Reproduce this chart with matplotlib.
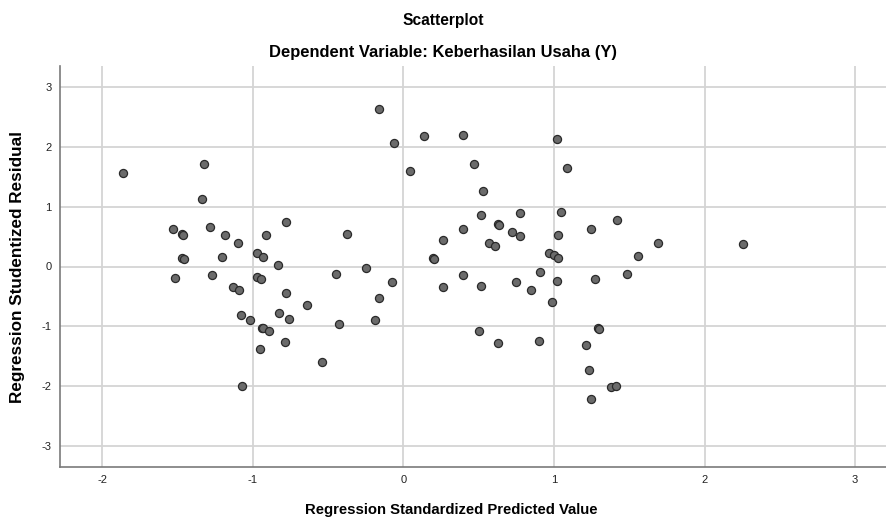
import matplotlib
matplotlib.use("Agg")
import matplotlib.pyplot as plt

# standardized predicted values (x) and studentized residuals (y)
pred = [-1.859, -1.325, -1.335, -0.781, -1.529, -1.471, -1.463, -1.284, -1.184, -1.096,
        -0.910, -1.471, -1.456, -1.202, -0.969, -0.930, -0.832, -0.449, -1.514, -1.268,
        -0.969, -0.943, -1.133, -1.093, -0.781, -0.639, -1.080, -1.020, -0.825, -0.757,
        -0.425, -0.938, -0.930, -0.892, -0.783, -0.953, -0.538, -1.073,
        -0.161, -0.060, 0.137, 0.398, 1.021, 0.044, 0.467, 1.089, 0.531, 0.518,
        0.775, 1.045, -0.374, 0.398, 0.631, 0.637, 0.720, 0.775, 1.027, 1.246,
        0.264, 0.571, 0.611, 0.199, 0.206, 0.969, 1.000, 1.027, -0.248, -0.077,
        0.398, 0.748, 0.908, 1.021, 1.275, -0.164, -0.186, 0.264, 0.518, 0.850,
        0.985, 0.503, 0.631, 0.901, 1.291, 1.297, 1.215, 1.233, 1.379, 1.410,
        1.244, 1.419, 1.691, 1.556, 1.487, 2.253]
resid = [1.557, 1.712, 1.133, 0.740, 0.623, 0.545, 0.528, 0.667, 0.533, 0.400,
         0.533, 0.145, 0.123, 0.156, 0.217, 0.162, 0.028, -0.127, -0.194, -0.150,
         -0.177, -0.210, -0.339, -0.394, -0.444, -0.644, -0.811, -0.889, -0.772, -0.872,
         -0.967, -1.022, -1.033, -1.072, -1.255, -1.378, -1.600, -2.000,
         2.623, 2.062, 2.178, 2.200, 2.128, 1.600, 1.717, 1.645, 1.262, 0.857,
         0.895, 0.907, 0.550, 0.633, 0.717, 0.690, 0.578, 0.506, 0.533, 0.628,
         0.440, 0.400, 0.345, 0.140, 0.133, 0.223, 0.190, 0.140, -0.017, -0.261,
         -0.150, -0.255, -0.088, -0.244, -0.211, -0.533, -0.889, -0.344, -0.317, -0.394,
         -0.589, -1.078, -1.278, -1.250, -1.022, -1.039, -1.311, -1.733, -2.011, -1.989,
         -2.217, 0.773, 0.400, 0.183, -0.122, 0.383]

xticks = [-2, -1, 0, 1, 2, 3]
yticks = [-3, -2, -1, 0, 1, 2, 3]

plt.rcParams['font.family'] = ['Liberation Sans', 'DejaVu Sans']
plt.rcParams['axes.unicode_minus'] = False

fig = plt.figure(figsize=(8.86, 5.22), dpi=100)
ax = fig.add_axes([60 / 886, 1 - 467 / 522, 1 - 60 / 886, (467 - 66) / 522])

ax.scatter(pred, resid, s=34, facecolor='#6b6b6b', edgecolor='#2a2a2a',
           linewidths=0.9, zorder=3)

ax.set_xlim(-2.28, 3.205)
ax.set_ylim(-3.345, 3.345)
ax.set_xticks(xticks)
ax.set_yticks(yticks)
ax.grid(True, color='#d4d4d4', linewidth=1.3)
ax.set_axisbelow(True)
ax.tick_params(length=0, labelsize=8, colors='#222222', pad=6)
for s in ['top', 'right']:
    ax.spines[s].set_visible(False)
for s in ['left', 'bottom']:
    ax.spines[s].set_color('#7a7a7a')
    ax.spines[s].set_linewidth(1.2)

fig.text(0.5, 1 - 21 / 522, 'Scatterplot', ha='center', va='center',
         fontsize=11.2, fontweight='bold')
fig.text(0.5, 1 - 52 / 522, 'Dependent Variable: Keberhasilan Usaha (Y)',
         ha='center', va='center', fontsize=11.9, fontweight='bold')
fig.text(451 / 886, 1 - 510 / 522, 'Regression Standardized Predicted Value',
         ha='center', va='center', fontsize=10.7, fontweight='bold')
fig.text(18 / 886, 1 - 267 / 522, 'Regression Studentized Residual',
         ha='center', va='center', rotation=90, fontsize=12.3, fontweight='bold')

fig.savefig('out.png', dpi=100)
